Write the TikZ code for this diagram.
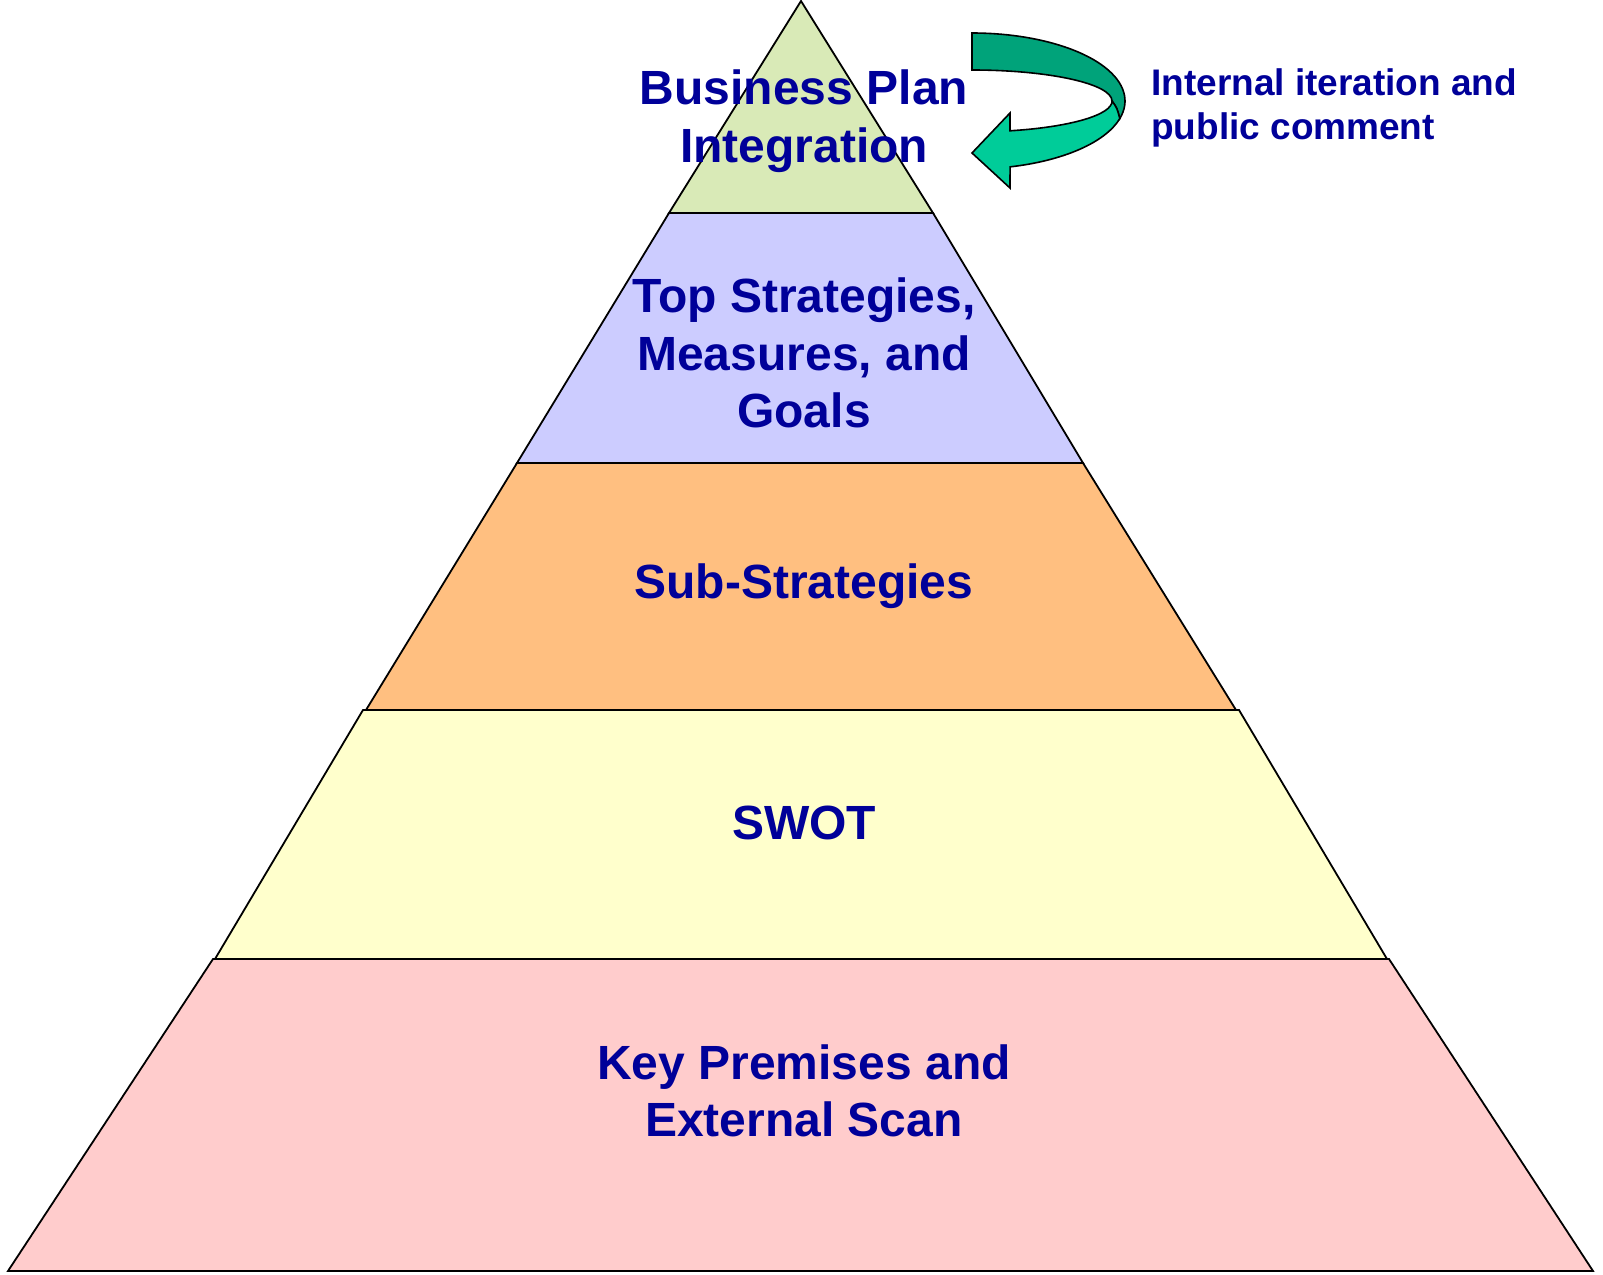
\documentclass[tikz,border=0pt]{standalone}
\usepackage{fontspec}
\setmainfont{Liberation Sans}
\definecolor{txt}{RGB}{0,0,153}
\definecolor{cgreen}{RGB}{217,234,183}
\definecolor{clav}{RGB}{204,204,255}
\definecolor{corange}{RGB}{255,191,128}
\definecolor{cyellow}{RGB}{255,255,204}
\definecolor{cpink}{RGB}{255,204,204}
\definecolor{adark}{RGB}{0,163,122}
\definecolor{alight}{RGB}{0,204,153}
\begin{document}
\begin{tikzpicture}[x=1pt,y=-1pt,
  band/.style={draw=black,line width=1.8pt,line join=miter},
  arrowpart/.style={draw=black,line width=1.6pt,line join=miter},
  lbl/.style={text=txt,font=\bfseries\fontsize{48}{57.5}\selectfont,align=center,inner sep=0pt},
  note/.style={text=txt,font=\bfseries\fontsize{37}{44}\selectfont,align=left,inner sep=0pt}]
\useasboundingbox (0,0) rectangle (1603,1274);
% pyramid bands
\filldraw[band,fill=cpink] (213,959) -- (1389,959) -- (1593,1271) -- (8,1271) -- cycle;
\filldraw[band,fill=cyellow] (363,710) -- (1239,710) -- (1387,959) -- (215,959) -- cycle;
\filldraw[band,fill=corange] (517,463) -- (1083,463) -- (1236,710) -- (366,710) -- cycle;
\filldraw[band,fill=clav] (669,213) -- (933,213) -- (1083,463) -- (517,463) -- cycle;
\filldraw[band,fill=cgreen] (801,1) -- (933,213) -- (669,213) -- cycle;
% labels
\node[lbl] (bpi) at (804,121) {Business Plan\\Integration};
\node[lbl] (tsm) at (804,353) {Top Strategies,\\Measures, and\\Goals};
\node[lbl] (sub) at (804,586) {Sub-Strategies};
\node[lbl] (swot) at (804,823) {SWOT};
\node[lbl] (kpe) at (804,1091) {Key Premises and\\External Scan};
% curved arrow
\filldraw[arrowpart,fill=adark] (972,33) arc[start angle=-90,end angle=15,x radius=153,y radius=68]
  .. controls (1117,108) .. (1112,101)
  arc[start angle=0,end angle=-90,x radius=140,y radius=31] -- cycle;
\filldraw[arrowpart,fill=alight] (1112,101) .. controls (1117,108) .. (1119.8,118.6)
  arc[start angle=15,end angle=75.6,x radius=153,y radius=68]
  -- (1010,188) -- (972,153) -- (1010,113) -- (1010,130.8)
  arc[start angle=74.3,end angle=0,x radius=140,y radius=31] -- cycle;
\node[note,anchor=west] (iter) at (1151,108) {Internal iteration and\\public comment};
\end{tikzpicture}
\end{document}
